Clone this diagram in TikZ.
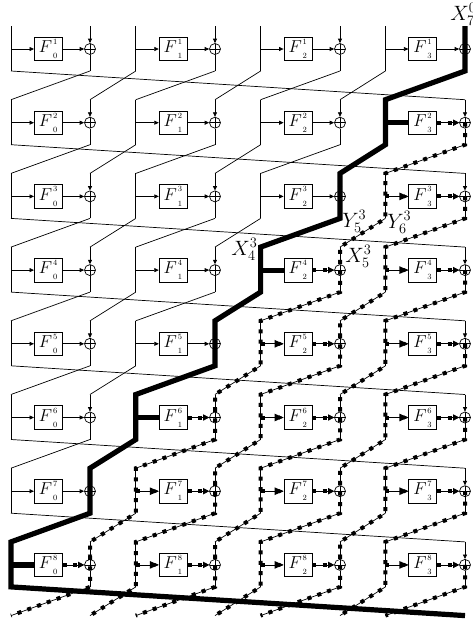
\documentclass[tikz,border=0pt]{standalone}
\usepackage{tikz}
\usetikzlibrary{arrows.meta,positioning}

\newcommand{\Fname}[2]{$F\kern0.8pt^{\raisebox{2pt}{$\scriptscriptstyle#1$}}_{\raisebox{-1.6pt}{$\scriptscriptstyle#2$}}$}

\begin{document}
\begin{tikzpicture}[x=1pt, y=-1pt,
    line width=0.7pt,
    fbox/.style={draw, minimum width=28pt, minimum height=23.5pt, inner sep=0pt,
                 font=\fontsize{16}{18}\selectfont},
    xorc/.style={draw, circle, minimum size=11pt, inner sep=0pt,
                 path picture={\draw (path picture bounding box.north) -- (path picture bounding box.south)
                                     (path picture bounding box.west) -- (path picture bounding box.east);}},
    arr/.style={-{Triangle[length=4.5pt,width=4pt]}},
    act/.style={line width=5.2pt},
    unk/.style={line width=4pt, dash pattern=on 4pt off 6.4pt},
    unkin/.style={line width=4pt, dash pattern=on 4pt off 30pt, -{Triangle[length=9pt,width=7pt]}},
    unkout/.style={unk, -{Triangle[length=6pt,width=6pt]}},
    lbl/.style={font=\fontsize{21}{24}\selectfont, inner sep=0pt, anchor=base west}
  ]
  \useasboundingbox (0,0) rectangle (473,625);

  % branch end points, rows 1..9
  \foreach \r in {1,...,9}{
    \foreach \i in {0,...,3}{
      \coordinate (lt\r-\i) at ({11+124.8*\i}, {26+73.7*(\r-1)});
      \coordinate (lm\r-\i) at ({11+124.8*\i}, {49+73.7*(\r-1)});
      \coordinate (lb\r-\i) at ({11+124.8*\i}, {71+73.7*(\r-1)});
      \coordinate (xt\r-\i) at ({90+125*\i}, {26+73.7*(\r-1)});
      \coordinate (xb\r-\i) at ({90+125*\i}, {71+73.7*(\r-1)});
    }
  }

  % rounds
  \foreach \r in {1,...,8}{
    \pgfmathtruncatemacro\n{\r+1}
    \foreach \i in {0,...,3}{
      \pgfmathtruncatemacro\j{mod(\i+1,4)}
      \node[fbox, right=23pt of lm\r-\i] (f\r-\i) {\Fname{\r}{\i}};
      \node[xorc] (x\r-\i) at (xt\r-\i |- lm\r-\i) {};
      \draw (lt\r-\i) -- (lb\r-\i);
      \draw[arr] (lm\r-\i) -- (f\r-\i);
      \draw[arr] (f\r-\i) -- (x\r-\i);
      \draw[arr] (xt\r-\i) -- (x\r-\i);
      \draw (x\r-\i) -- (xb\r-\i);
      \draw (xb\r-\i) -- (lt\n-\i);
      \draw (lb\r-\j) -- (xt\n-\i);
    }
  }

  % thick trail
  \draw[act] (xt1-3) -- (xb1-3) -- (lt2-3) -- (lb2-3) -- (xt3-2) -- (xb3-2) -- (lt4-2) -- (lb4-2)
    -- (xt5-1) -- (xb5-1) -- (lt6-1) -- (lb6-1) -- (xt7-0) -- (xb7-0) -- (lt8-0) -- (lb8-0) -- (xt9-3);
  \foreach \r/\i in {2/3,4/2,6/1,8/0}
    \draw[act] (lm\r-\i) -- (f\r-\i);

  % unknown trails
  \draw[unk] (x2-3.center) -- (xb2-3) -- (lt3-3) -- (lb3-3) -- (xt4-2) -- (xb4-2) -- (lt5-2) -- (lb5-2)
    -- (xt6-1) -- (xb6-1) -- (lt7-1) -- (lb7-1) -- (xt8-0) -- (xb8-0) -- (lt9-0);
  \draw[unk] (x3-3.center) -- (xb3-3) -- (lt4-3) -- (lb4-3) -- (xt5-2) -- (xb5-2) -- (lt6-2) -- (lb6-2)
    -- (xt7-1) -- (xb7-1) -- (lt8-1) -- (lb8-1) -- (xt9-0);
  \draw[unk] (x4-3.center) -- (xb4-3) -- (lt5-3) -- (lb5-3) -- (xt6-2) -- (xb6-2) -- (lt7-2) -- (lb7-2)
    -- (xt8-1) -- (xb8-1) -- (lt9-1);
  \draw[unk] (x5-3.center) -- (xb5-3) -- (lt6-3) -- (lb6-3) -- (xt7-2) -- (xb7-2) -- (lt8-2) -- (lb8-2) -- (xt9-1);
  \draw[unk] (x6-3.center) -- (xb6-3) -- (lt7-3) -- (lb7-3) -- (xt8-2) -- (xb8-2) -- (lt9-2);
  \draw[unk] (x7-3.center) -- (xb7-3) -- (lt8-3) -- (lb8-3) -- (xt9-2);
  \draw[unk] (x8-3.center) -- (xb8-3) -- (lt9-3);
  \foreach \r/\i in {3/3,4/3,5/2,5/3,6/2,6/3,7/1,7/2,7/3,8/1,8/2,8/3}
    \draw[unkin] (lm\r-\i) -- (f\r-\i);
  \foreach \r/\i in {2/3,3/3,4/2,4/3,5/2,5/3,6/1,6/2,6/3,7/1,7/2,7/3,8/0,8/1,8/2,8/3}
    \draw[unkout] (f\r-\i) -- (x\r-\i);

  % labels
  \node[lbl] (lx70) at (450,20) {$X_7^0$};
  \node[lbl] (ly53) at (342,227) {$Y_5^3$};
  \node[lbl] (ly63) at (387,228) {$Y_6^3$};
  \node[lbl] (lx53) at (345,262) {$X_5^3$};
  \node[lbl] (lx43) at (231,255) {$X_4^3$};
\end{tikzpicture}
\end{document}
